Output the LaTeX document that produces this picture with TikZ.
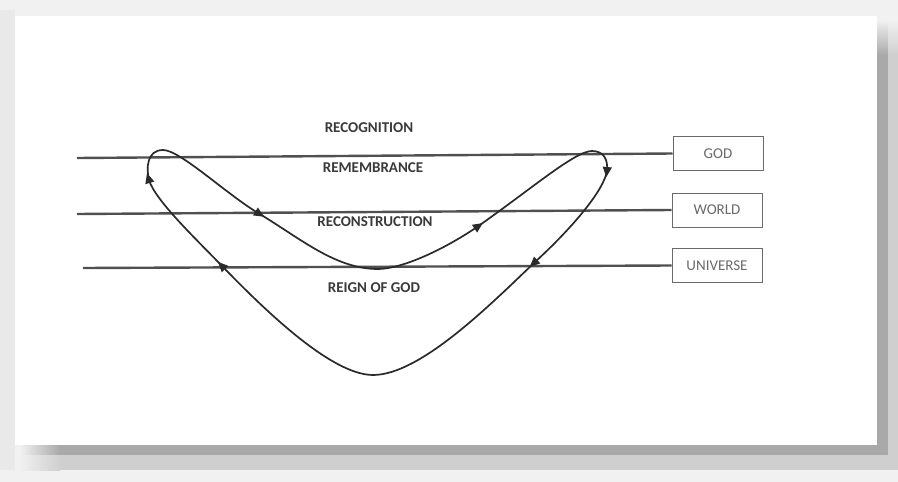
\documentclass[tikz,border=0pt]{standalone}
\usepackage{fontspec}
\setmainfont{Carlito}
\usetikzlibrary{shapes.geometric}
\definecolor{bgc}{HTML}{F1F1F1}
\definecolor{bgl}{HTML}{E9E9E9}
\definecolor{shd}{HTML}{A9A9A9}
\definecolor{shl}{HTML}{CFCFCF}
\definecolor{linec}{HTML}{505050}
\definecolor{curvec}{HTML}{2A2A2A}
\definecolor{labc}{HTML}{3A3A3A}
\definecolor{boxc}{HTML}{6A6A6A}
\begin{document}
\begin{tikzpicture}[x=1pt,y=-1pt,
  level/.style={draw=linec, line width=2.4pt},
  loopline/.style={draw=curvec, line width=1.7pt},
  lab/.style={font=\fontsize{15}{15}\selectfont\bfseries, text=labc, inner sep=0},
  levelbox/.style={draw=boxc, line width=1pt, minimum width=90pt, minimum height=34pt, inner sep=0, font=\fontsize{15}{15}\selectfont, text=boxc},
  tip/.style={isosceles triangle, isosceles triangle apex angle=50, fill=curvec, inner sep=0, minimum height=10pt, minimum width=8pt, sloped, allow upside down}]
\useasboundingbox (0,0) rectangle (898,482);
% background and card shadow
\fill[bgc] (0,0) rectangle (898,482);
\fill[bgl] (0,10) rectangle (15,470);
\shade[top color=bgc, bottom color=shd] (877,20) rectangle (888,55);
\fill[shd] (877,55) rectangle (888,455);
\shade[top color=bgc, bottom color=shl] (888,20) rectangle (898,55);
\fill[shl] (888,55) rectangle (898,470);
\shade[left color=bgc, right color=shd] (20,445) rectangle (60,455);
\fill[shd] (60,445) rectangle (888,455);
\shade[left color=bgc, right color=shl] (20,455) rectangle (60,470);
\fill[shl] (60,455) rectangle (898,470);
\fill[white] (15,16) rectangle (877,445);
% level boxes
\node[levelbox] (god) at (718,153.5) {GOD};
\node[levelbox] (world) at (717,210) {WORLD};
\node[levelbox] (uni) at (717,265.5) {UNIVERSE};
\coordinate (godL) at (77,158);
\coordinate (worldL) at (77,214);
\coordinate (uniL) at (83,268);
\draw[level] (godL) -- (god.west);
\draw[level] (worldL) -- (world.west);
\draw[level] (uniL) -- (uni.west);
% labels
\node[lab] (recog) at (369,128) {RECOGNITION};
\node[lab] (remem) at (373,168) {REMEMBRANCE};
\node[lab] (recon) at (375,222) {RECONSTRUCTION};
\node[lab] (reign) at (374,288) {REIGN OF GOD};
% loop
\draw[loopline] (163,150)
  .. controls (180,150) and (225,193) .. (258,213) node[tip,pos=1]{}
  .. controls (300,238) and (335,269) .. (378,269)
  .. controls (400,269) and (440,252) .. (477,227) node[tip,pos=1]{}
  .. controls (530,190) and (575,151) .. (592,151)
  .. controls (604,151) and (608,160) .. (607,170) node[tip,pos=1]{}
  .. controls (605,190) and (570,230) .. (535,262) node[tip,pos=1]{}
  .. controls (490,305) and (420,375) .. (373,375)
  .. controls (330,375) and (260,305) .. (223,267) node[tip,pos=1]{}
  .. controls (195,238) and (155,200) .. (149,180) node[tip,pos=1]{}
  .. controls (146,168) and (147,150) .. (163,150) -- cycle;
\end{tikzpicture}
\end{document}
